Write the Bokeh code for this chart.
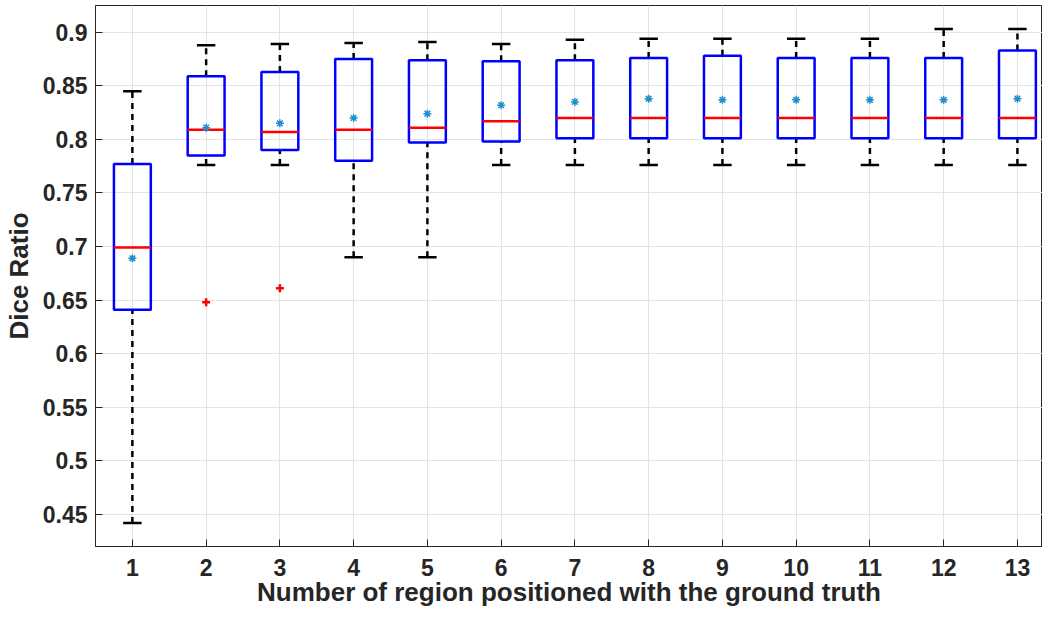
from bokeh.plotting import figure
from bokeh.models import Range1d, FixedTicker
from bokeh.embed import file_html
from bokeh.resources import INLINE

categories = [1, 2, 3, 4, 5, 6, 7, 8, 9, 10, 11, 12, 13]
whisker_low = [0.442, 0.776, 0.776, 0.690, 0.690, 0.776, 0.776, 0.776, 0.776, 0.776, 0.776, 0.776, 0.776]
q1 = [0.641, 0.785, 0.790, 0.780, 0.797, 0.798, 0.801, 0.801, 0.801, 0.801, 0.801, 0.801, 0.801]
median = [0.699, 0.809, 0.807, 0.809, 0.811, 0.817, 0.820, 0.820, 0.820, 0.820, 0.820, 0.820, 0.820]
q3 = [0.777, 0.859, 0.863, 0.875, 0.874, 0.873, 0.874, 0.876, 0.878, 0.876, 0.876, 0.876, 0.883]
whisker_high = [0.845, 0.888, 0.889, 0.890, 0.891, 0.889, 0.893, 0.894, 0.894, 0.894, 0.894, 0.903, 0.903]
mean = [0.689, 0.811, 0.815, 0.820, 0.824, 0.832, 0.835, 0.838, 0.837, 0.837, 0.837, 0.837, 0.838]
outlier_x = [2, 3]
outlier_y = [0.648, 0.661]
y_ticks = [0.45, 0.5, 0.55, 0.6, 0.65, 0.7, 0.75, 0.8, 0.85, 0.9]
y_tick_labels = ["0.45", "0.5", "0.55", "0.6", "0.65", "0.7", "0.75", "0.8", "0.85", "0.9"]

box_half = 0.25
cap_half = 0.125

p = figure(width=1042, height=609, output_backend="svg", toolbar_location=None,
           x_range=Range1d(0.5, 13.34), y_range=Range1d(0.42, 0.925),
           min_border_left=87, min_border_right=0, min_border_top=5, min_border_bottom=0)
p.background_fill_color = "white"
p.border_fill_color = "white"
p.outline_line_color = "#262626"
p.outline_line_width = 1

font = "Liberation Sans"
for ax in (p.xaxis, p.yaxis):
    ax.major_label_text_font = font
    ax.major_label_text_font_style = "bold"
    ax.major_label_text_font_size = "23px"
    ax.major_label_text_color = "#262626"
    ax.axis_label_text_font = font
    ax.axis_label_text_font_style = "bold"
    ax.axis_label_text_font_size = "26px"
    ax.axis_label_text_color = "#262626"
    ax.axis_line_color = "#262626"
    ax.major_tick_line_color = "#262626"
    ax.major_tick_in = 7
    ax.major_tick_out = 0
    ax.minor_tick_line_color = None

p.xaxis.ticker = FixedTicker(ticks=categories)
p.yaxis.ticker = FixedTicker(ticks=y_ticks)
p.yaxis.major_label_overrides = {t: l for t, l in zip(y_ticks, y_tick_labels)}
p.xaxis.axis_label = "Number of region positioned with the ground truth"
p.yaxis.axis_label = "Dice Ratio"
p.xaxis.major_label_standoff = 12
p.yaxis.major_label_standoff = 8
p.xaxis.axis_label_standoff = -2
p.yaxis.axis_label_standoff = 6

p.xgrid.grid_line_color = "#e3e3e3"
p.ygrid.grid_line_color = "#e3e3e3"

# whiskers (dashed)
p.segment(x0=categories, y0=q3, x1=categories, y1=whisker_high,
          line_color="black", line_width=2.5, line_dash="6 5")
p.segment(x0=categories, y0=whisker_low, x1=categories, y1=q1,
          line_color="black", line_width=2.5, line_dash="6 5")
# caps
p.segment(x0=[c - cap_half for c in categories], y0=whisker_high,
          x1=[c + cap_half for c in categories], y1=whisker_high,
          line_color="black", line_width=2.5)
p.segment(x0=[c - cap_half for c in categories], y0=whisker_low,
          x1=[c + cap_half for c in categories], y1=whisker_low,
          line_color="black", line_width=2.5)
# boxes
p.quad(left=[c - box_half for c in categories], right=[c + box_half for c in categories],
       bottom=q1, top=q3, fill_color=None, line_color="#0000ff", line_width=2.5)
# medians
p.segment(x0=[c - box_half for c in categories], y0=median,
          x1=[c + box_half for c in categories], y1=median,
          line_color="#ff0000", line_width=2.5)
# means
p.scatter(categories, mean, marker="asterisk", size=8, line_color="#1f8ecf", line_width=1.5)
# outliers
p.scatter(outlier_x, outlier_y, marker="cross", size=8, line_color="#ff0000", line_width=2.5)

open("out.html", "w").write(file_html(p, INLINE))
